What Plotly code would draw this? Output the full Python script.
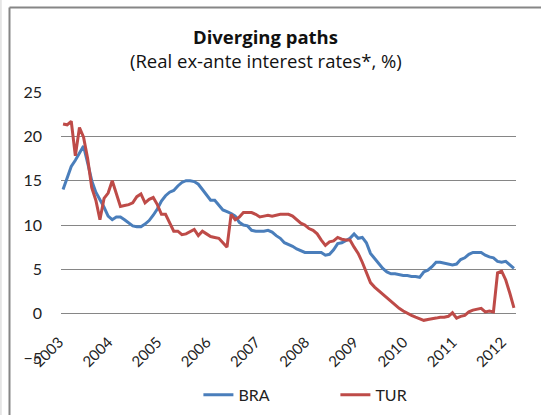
import plotly.graph_objects as go

# monthly, Jan 2003 .. Mar 2012
years = ["2003", "2004", "2005", "2006", "2007", "2008", "2009", "2010", "2011", "2012"]

bra = [14.0, 15.4, 16.6, 17.3, 18.1, 18.9, 17.0, 15.0, 13.7, 12.9, 12.0, 11.0,
       10.6, 10.9, 10.9, 10.6, 10.2, 9.9, 9.8, 9.8, 10.1, 10.5, 11.1, 11.8,
       12.7, 13.3, 13.7, 13.9, 14.4, 14.8, 15.0, 15.0, 14.9, 14.6, 14.0, 13.4,
       12.8, 12.8, 12.2, 11.7, 11.5, 11.3, 11.0, 10.3, 10.0, 9.9, 9.4, 9.3,
       9.3, 9.3, 9.4, 9.2, 8.8, 8.5, 8.0, 7.8, 7.6, 7.3, 7.1, 6.9,
       6.9, 6.9, 6.9, 6.9, 6.6, 6.7, 7.2, 7.9, 8.0, 8.3, 8.5, 9.0,
       8.5, 8.6, 8.0, 6.8, 6.2, 5.6, 5.1, 4.7, 4.5, 4.5, 4.4, 4.3,
       4.3, 4.2, 4.2, 4.1, 4.7, 4.9, 5.3, 5.8, 5.8, 5.7, 5.6, 5.5,
       5.6, 6.1, 6.3, 6.7, 6.9, 6.9, 6.9, 6.6, 6.4, 6.3, 5.9, 5.8,
       5.9, 5.5, 5.1]

tur = [21.4, 21.3, 21.7, 17.8, 21.0, 19.9, 17.5, 14.2, 12.8, 10.6, 13.0, 13.6,
       15.0, 13.4, 12.1, 12.2, 12.3, 12.5, 13.2, 13.5, 12.5, 12.9, 13.1, 12.3,
       11.2, 11.2, 10.2, 9.3, 9.3, 8.9, 9.0, 9.3, 9.5, 8.8, 9.3, 9.0,
       8.7, 8.6, 8.5, 8.0, 7.5, 11.2, 10.6, 10.9, 11.4, 11.4, 11.4, 11.2,
       10.9, 11.0, 11.1, 11.0, 11.1, 11.2, 11.2, 11.2, 11.0, 10.6, 10.2, 10.0,
       9.6, 9.4, 9.0, 8.3, 7.7, 8.1, 8.2, 8.6, 8.4, 8.3, 8.3, 7.5,
       6.8, 5.8, 4.6, 3.5, 3.0, 2.6, 2.2, 1.8, 1.3, 0.9, 0.6, 0.3,
       0.0, -0.2, -0.4, -0.6, -0.75, -0.65, -0.6, -0.5, -0.4, -0.4, -0.3, 0.1,
       -0.5, -0.3, -0.2, 0.2, 0.4, 0.5, 0.6, 0.2, 0.3, 0.2, 4.6, 4.8,
       3.8, 2.3, 0.65]

months = list(range(len(bra)))
font = "Lato, 'Open Sans', sans-serif"
title_font = "'Open Sans', Lato, sans-serif"

fig = go.Figure()
fig.add_trace(go.Scatter(x=months, y=bra, mode="lines", name="BRA",
                         line=dict(color="#4A7EBB", width=3)))
fig.add_trace(go.Scatter(x=months, y=tur, mode="lines", name="TUR",
                         line=dict(color="#BE4B48", width=3)))

fig.update_layout(
    width=541, height=415,
    margin=dict(l=61, r=25, t=92, b=57, autoexpand=False),
    plot_bgcolor="white", paper_bgcolor="white",
    font=dict(family=font, size=16, color="#222"),
    showlegend=True,
    legend=dict(orientation="h", x=0.302, xanchor="left", y=-0.139, yanchor="middle",
                font=dict(size=16, color="#222"), entrywidth=92,
                entrywidthmode="pixels", bgcolor="rgba(0,0,0,0)"),
    xaxis=dict(range=[-0.5, len(bra) - 0.5], tickvals=list(range(0, len(bra), 12)),
               ticktext=years, tickangle=-45, showgrid=False, showline=False,
               zeroline=False, ticks="", anchor="free", position=5 / 30,
               automargin=False, ticklabelstandoff=16, ticklabelshift=-4,
               tickfont=dict(size=15, color="#222")),
    yaxis=dict(range=[-5, 25], dtick=5, showgrid=True, gridcolor="#868686",
               gridwidth=1, zeroline=False, showline=False, ticklabelstandoff=18,
               automargin=False, tickfont=dict(size=16, color="#222")),
    annotations=[
        dict(text="<b>Diverging paths</b>", x=0.45, y=1.21, xref="paper", yref="paper",
             xanchor="center", yanchor="middle", showarrow=False,
             font=dict(family=title_font, size=18.5, color="#111")),
        dict(text="(Real ex-ante interest rates*, %)", x=0.45, y=1.117, xref="paper",
             yref="paper", xanchor="center", yanchor="middle", showarrow=False,
             font=dict(family=title_font, size=18.5, color="#111")),
    ],
    shapes=[
        dict(type="line", xref="paper", yref="paper", x0=-0.1132, x1=-0.1132,
             y0=1.318, y1=-0.3, line=dict(color="#868686", width=2)),
        dict(type="line", xref="paper", yref="paper", x0=-0.1132, x1=1.2,
             y0=1.318, y1=1.318, line=dict(color="#868686", width=2)),
        dict(type="line", xref="paper", yref="paper", x0=-0.132, x1=-0.132,
             y0=1.4, y1=-0.3, line=dict(color="#d0d0d0", width=1)),
    ],
)

# page body has an 8px default margin; drop it so the figure sits at 0,0
fig.write_html("out.html", config={"displayModeBar": False},
               post_script="document.body.style.margin='0';")
